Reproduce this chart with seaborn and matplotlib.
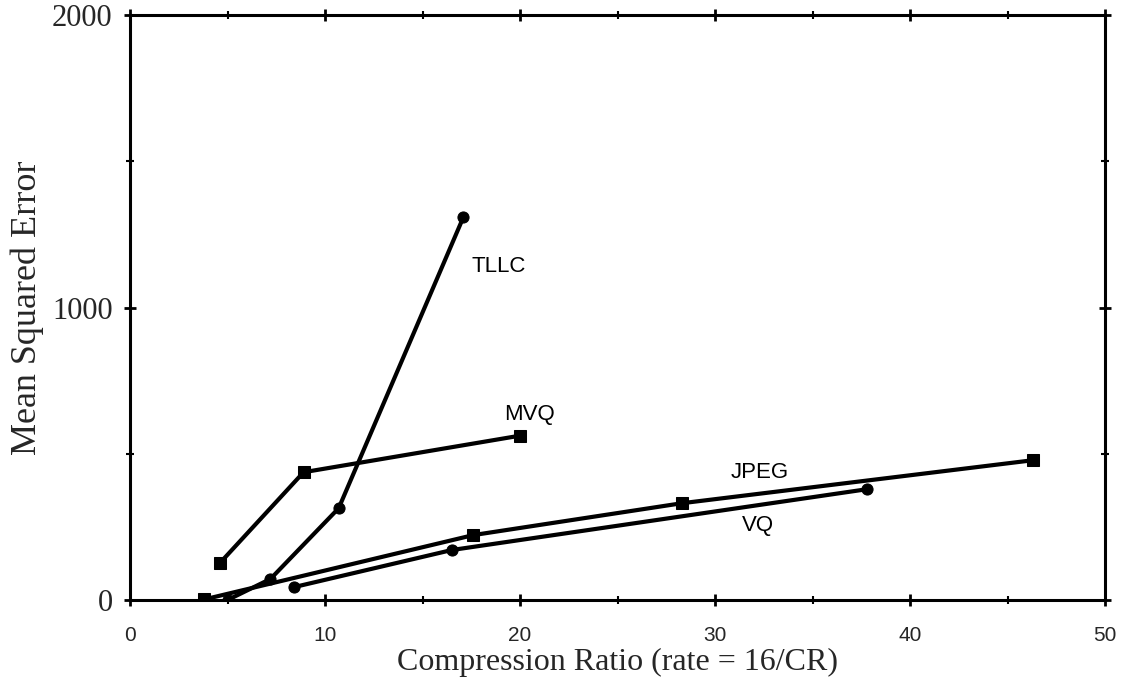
import matplotlib
matplotlib.use("Agg")
import matplotlib.pyplot as plt
import seaborn as sns
import pandas as pd
from matplotlib.ticker import MultipleLocator

# Data
tllc_x = [5.0, 7.2, 10.7, 17.1]
tllc_y = [0, 72, 314, 1310]
mvq_x = [4.6, 8.9, 20.0]
mvq_y = [126, 437, 562]
jpeg_x = [3.8, 17.6, 28.3, 46.3]
jpeg_y = [2, 222, 331, 478]
vq_x = [8.4, 16.5, 37.8]
vq_y = [44, 171, 379]

series = ["TLLC", "MVQ", "JPEG", "VQ"]
xs = [tllc_x, mvq_x, jpeg_x, vq_x]
ys = [tllc_y, mvq_y, jpeg_y, vq_y]
markers = {"TLLC": "o", "MVQ": "s", "JPEG": "s", "VQ": "o"}
label_pos = {"TLLC": (18.9, 1140), "MVQ": (20.5, 635), "JPEG": (32.3, 437), "VQ": (32.2, 255)}

x_ticks = [0, 10, 20, 30, 40, 50]
y_ticks = [0, 1000, 2000]

rows = []
for name, xv, yv in zip(series, xs, ys):
    for i, (a, b) in enumerate(zip(xv, yv)):
        rows.append({"series": name, "order": i, "cr": a, "mse": b})
df = pd.DataFrame(rows)

sns.set_theme(style="white")
fig = plt.figure(figsize=(11.23, 6.87), dpi=100)
ax = fig.add_axes([0.1158, 0.1266, 0.8682, 0.8514])

for name in series:
    sub = df[df["series"] == name]
    m = markers[name]
    sns.lineplot(data=sub, x="cr", y="mse", sort=False, ax=ax, color="black",
                 linewidth=3.0, marker=m, markersize=8,
                 markeredgecolor="black", markerfacecolor="black", legend=False)
    lx, ly = label_pos[name]
    ax.text(lx, ly, name, ha="center", va="center", fontsize=16,
            family="Liberation Sans", color="black")

ax.set_xlim(0, 50)
ax.set_ylim(0, 2000)
ax.set_xticks(x_ticks)
ax.set_yticks(y_ticks)
ax.xaxis.set_minor_locator(MultipleLocator(5))
ax.yaxis.set_minor_locator(MultipleLocator(500))
ax.set_xticklabels([str(t) for t in x_ticks], family="Liberation Sans",
                   fontsize=15)
ax.set_yticklabels([str(t) for t in y_ticks], family="Liberation Serif", fontsize=22)
ax.tick_params(axis="both", which="both", direction="inout", color="black",
               top=True, right=True, bottom=True, left=True)
ax.tick_params(axis="both", which="major", length=9, width=2)
ax.tick_params(axis="both", which="minor", length=6, width=1.5)
ax.tick_params(axis="x", which="major", pad=14)
ax.tick_params(axis="y", which="major", pad=8)

for s in ax.spines.values():
    s.set_visible(True)
    s.set_color("black")
    s.set_linewidth(2.2)

ax.set_xlabel("Compression Ratio (rate = 16/CR)", family="Liberation Serif",
              fontsize=23, labelpad=2)
ax.set_ylabel("Mean Squared Error", family="Liberation Serif", fontsize=26,
              labelpad=6)
ax.grid(False)

fig.savefig("out.png", dpi=100, facecolor="white")
